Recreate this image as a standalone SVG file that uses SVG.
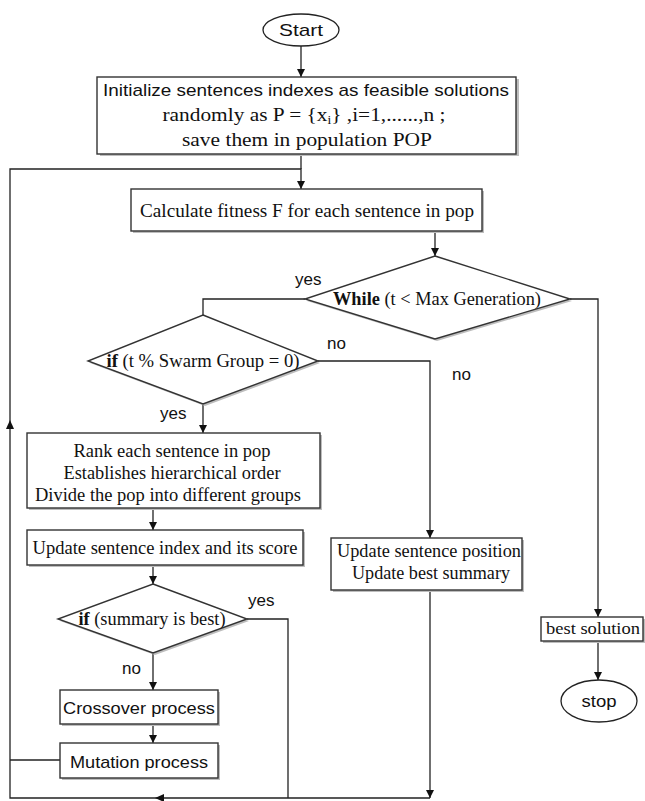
<svg xmlns="http://www.w3.org/2000/svg" width="645" height="801" viewBox="0 0 645 801">
<style>
.box{fill:#fff;stroke:#333;stroke-width:1.4}
.sh{fill:#bdbdbd}
.ln{fill:none;stroke:#222;stroke-width:1.3}
.ah{fill:#111}
.serif{font-family:"Liberation Serif","Times New Roman",serif;font-size:19px;fill:#111}
.sans{font-family:"Liberation Sans",Arial,sans-serif;font-size:17px;fill:#111}
.lbl{font-family:"Liberation Sans",Arial,sans-serif;font-size:17px;fill:#111}
.small{font-size:17px}
</style>
<defs>
<marker id="arr" viewBox="0 0 10 10" refX="10" refY="5" markerWidth="8" markerHeight="8" orient="auto" markerUnits="userSpaceOnUse">
<path d="M0,0 L10,5 L0,10 z" fill="#111"/>
</marker>
</defs>
<rect width="645" height="801" fill="#fff"/>

<g id="connectors">
<line class="ln" x1="301" y1="45" x2="301" y2="77" marker-end="url(#arr)"/>
<polyline class="ln" points="301,154 301,169"/>
<polyline class="ln" points="430,798 10,798 10,169 301,169 301,189" marker-end="url(#arr)"/>
<polygon class="ah" points="6,429 10,420 14,429"/>
<polygon class="ah" points="155,798 164,794 164,802"/>
<line class="ln" x1="435" y1="231" x2="435" y2="256" marker-end="url(#arr)"/>
<polyline class="ln" points="305,299 203,299 203,315"/>
<polyline class="ln" points="570,299 598,299 598,617" marker-end="url(#arr)"/>
<polyline class="ln" points="318,361 430,361 430,538" marker-end="url(#arr)"/>
<line class="ln" x1="203" y1="404" x2="203" y2="433" marker-end="url(#arr)"/>
<line class="ln" x1="153" y1="508" x2="153" y2="530" marker-end="url(#arr)"/>
<line class="ln" x1="153" y1="565" x2="153" y2="584" marker-end="url(#arr)"/>
<polyline class="ln" points="247,619 288,619 288,798"/>
<line class="ln" x1="153" y1="653" x2="153" y2="690" marker-end="url(#arr)"/>
<line class="ln" x1="153" y1="724" x2="153" y2="743" marker-end="url(#arr)"/>
<line class="ln" x1="60" y1="760" x2="10" y2="760"/>
<line class="ln" x1="430" y1="590" x2="430" y2="798" marker-end="url(#arr)"/>
<line class="ln" x1="598" y1="641" x2="598" y2="680" marker-end="url(#arr)"/>
<text class="lbl" x="295" y="285">yes</text>
<text class="lbl" x="327" y="349">no</text>
<text class="lbl" x="452" y="380">no</text>
<text class="lbl" x="160" y="419">yes</text>
<text class="lbl" x="248" y="606">yes</text>
<text class="lbl" x="122" y="674">no</text>
</g>

<g id="start">
<ellipse cx="301" cy="30" rx="38" ry="16" fill="#fff" stroke="#222" stroke-width="1.3"/>
<text class="sans" x="301" y="36" text-anchor="middle" textLength="44" lengthAdjust="spacingAndGlyphs">Start</text>
</g>

<g id="init">
<rect class="sh" x="100" y="79" width="419" height="77"/>
<rect class="box" x="97" y="77" width="419" height="77"/>
<text class="sans" x="306" y="96" text-anchor="middle" textLength="406" lengthAdjust="spacingAndGlyphs">Initialize sentences indexes as feasible  solutions</text>
<text class="serif" x="304" y="121" text-anchor="middle" textLength="283" lengthAdjust="spacingAndGlyphs">randomly as  P = {x<tspan font-size="12" dy="3">i</tspan><tspan dy="-3">} ,i=1,......,n ;</tspan></text>
<text class="serif" x="307" y="146" text-anchor="middle" textLength="250" lengthAdjust="spacingAndGlyphs">save them in population POP</text>
</g>

<g id="calc">
<rect class="sh" x="133" y="191" width="351" height="42"/>
<rect class="box" x="131" y="189" width="351" height="42"/>
<text class="serif" x="307" y="217" text-anchor="middle" textLength="334" lengthAdjust="spacingAndGlyphs">Calculate fitness F for each sentence in pop</text>
</g>

<g id="while">
<polygon points="437,258 572,301 437,341 307,301" class="sh"/>
<polygon points="435,256 570,299 435,339 305,299" class="box"/>
<text class="serif" x="437" y="305" text-anchor="middle" textLength="208" lengthAdjust="spacingAndGlyphs"><tspan font-weight="bold">While</tspan> (t &lt; Max Generation)</text>
</g>

<g id="ifswarm">
<polygon points="205,317 320,363 205,406 90,363" class="sh"/>
<polygon points="203,315 318,361 203,404 88,361" class="box"/>
<text class="serif" x="203" y="367" text-anchor="middle" textLength="193" lengthAdjust="spacingAndGlyphs"><tspan font-weight="bold">if</tspan> (t % Swarm Group = 0)</text>
</g>

<g id="rank">
<rect class="sh" x="29" y="435" width="293" height="75"/>
<rect class="box" x="27" y="433" width="293" height="75"/>
<text class="serif" x="172" y="457" text-anchor="middle" textLength="197" lengthAdjust="spacingAndGlyphs">Rank each sentence in pop</text>
<text class="serif" x="172" y="479" text-anchor="middle" textLength="217" lengthAdjust="spacingAndGlyphs">Establishes hierarchical order</text>
<text class="serif" x="168" y="501" text-anchor="middle" textLength="266" lengthAdjust="spacingAndGlyphs">Divide the pop into different groups</text>
</g>

<g id="updidx">
<rect class="sh" x="29" y="532" width="276" height="35"/>
<rect class="box" x="27" y="530" width="276" height="35"/>
<text class="serif" x="165" y="554" text-anchor="middle" textLength="265" lengthAdjust="spacingAndGlyphs">Update sentence index and its score</text>
</g>

<g id="ifsummary">
<polygon points="155,586 249,621 155,655 60,621" class="sh"/>
<polygon points="153,584 247,619 153,653 58,619" class="box"/>
<text class="serif" x="152" y="625" text-anchor="middle" textLength="147" lengthAdjust="spacingAndGlyphs"><tspan font-weight="bold">if</tspan> (summary is best)</text>
</g>

<g id="crossover">
<rect class="sh" x="62" y="692" width="158" height="34"/>
<rect class="box" x="60" y="690" width="158" height="34"/>
<text class="sans" x="139" y="714" text-anchor="middle" textLength="152" lengthAdjust="spacingAndGlyphs">Crossover process</text>
</g>

<g id="mutation">
<rect class="sh" x="62" y="745" width="158" height="35"/>
<rect class="box" x="60" y="743" width="158" height="35"/>
<text class="sans" x="139" y="768" text-anchor="middle" textLength="138" lengthAdjust="spacingAndGlyphs">Mutation process</text>
</g>

<g id="updpos">
<rect class="sh" x="333" y="540" width="191" height="52"/>
<rect class="box" x="331" y="538" width="191" height="52"/>
<text class="serif" x="429" y="557" text-anchor="middle" textLength="184" lengthAdjust="spacingAndGlyphs">Update sentence position</text>
<text class="serif" x="431" y="579" text-anchor="middle" textLength="158" lengthAdjust="spacingAndGlyphs">Update best summary</text>
</g>

<g id="best">
<rect class="sh" x="543" y="619" width="102" height="24"/>
<rect class="box" x="541" y="617" width="102" height="24"/>
<text class="serif small" x="593" y="634" text-anchor="middle" textLength="94" lengthAdjust="spacingAndGlyphs">best solution</text>
</g>

<g id="stop">
<ellipse cx="599" cy="701" rx="38" ry="21" fill="#fff" stroke="#222" stroke-width="1.3"/>
<text class="sans" x="599" y="707" text-anchor="middle" textLength="35" lengthAdjust="spacingAndGlyphs">stop</text>
</g>
</svg>
